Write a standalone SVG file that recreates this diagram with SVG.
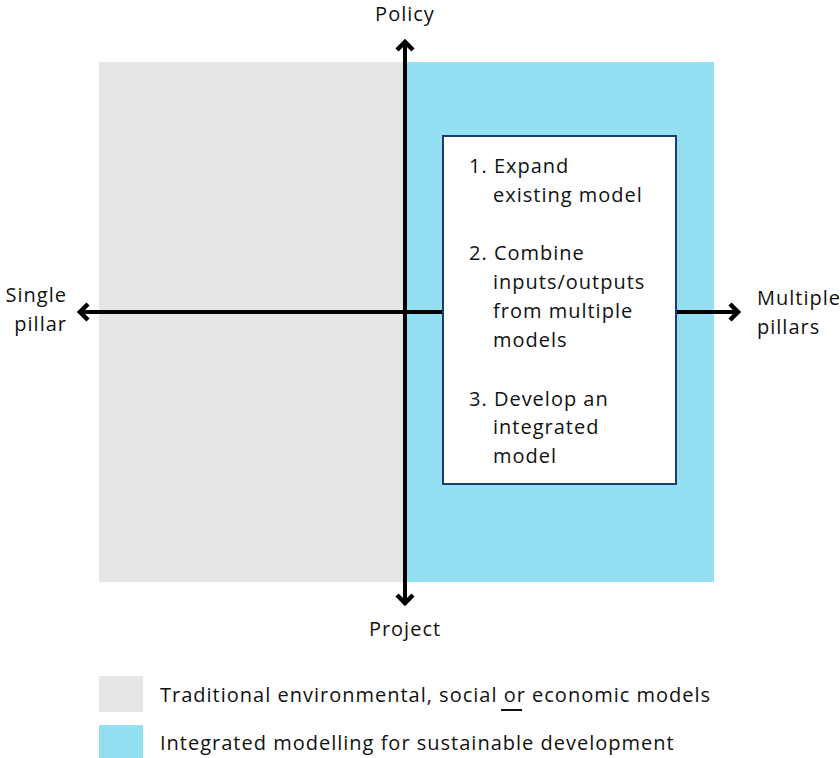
<svg xmlns="http://www.w3.org/2000/svg" width="840" height="758" viewBox="0 0 840 758">
<style>
text{font-family:"Open Sans","Liberation Sans",sans-serif;font-size:20px;letter-spacing:1px;fill:#111}
.ax{stroke:#000;stroke-width:4;fill:none}
.hd{stroke:#000;stroke-width:4.5;fill:none;stroke-linecap:butt;stroke-linejoin:miter}
</style>
<rect width="840" height="758" fill="#fff"/>
<g id="quadrants">
<rect x="99" y="62" width="306" height="520" fill="#e6e6e6"/>
<rect x="405" y="62" width="309" height="520" fill="#93e0f3"/>
</g>
<g id="connectors">
<line class="ax" x1="405" y1="42" x2="405" y2="603"/>
<line class="ax" x1="80" y1="312" x2="738" y2="312"/>
<polyline class="hd" points="397,50 405,42 413,50"/>
<polyline class="hd" points="397,595 405,603 413,595"/>
<polyline class="hd" points="88,304 80,312 88,320"/>
<polyline class="hd" points="730,304 738,312 730,320"/>
</g>
<g id="box">
<rect x="443" y="136" width="233" height="348" fill="#fff" stroke="#1b3d70" stroke-width="2"/>
<text x="469" y="173">1. Expand</text>
<text x="493" y="202">existing model</text>
<text x="469" y="260">2. Combine</text>
<text x="493" y="289">inputs/outputs</text>
<text x="493" y="318">from multiple</text>
<text x="493" y="347">models</text>
<text x="469" y="406">3. Develop an</text>
<text x="493" y="434">integrated</text>
<text x="493" y="463">model</text>
</g>
<g id="label-policy"><text x="405" y="21" text-anchor="middle">Policy</text></g>
<g id="label-project"><text x="405" y="636" text-anchor="middle">Project</text></g>
<g id="label-single"><text x="67" y="302" text-anchor="end">Single</text><text x="67" y="331" text-anchor="end">pillar</text></g>
<g id="label-multiple"><text x="757" y="305">Multiple</text><text x="757" y="334">pillars</text></g>
<g id="legend">
<rect x="99" y="676" width="44" height="36" fill="#e6e6e6"/>
<rect x="99" y="725" width="44" height="33" fill="#93e0f3"/>
<text x="160" y="702">Traditional environmental, social or economic models</text>
<line x1="501" y1="710" x2="522" y2="710" stroke="#111" stroke-width="2"/>
<text x="160" y="750">Integrated modelling for sustainable development</text>
</g>
</svg>
